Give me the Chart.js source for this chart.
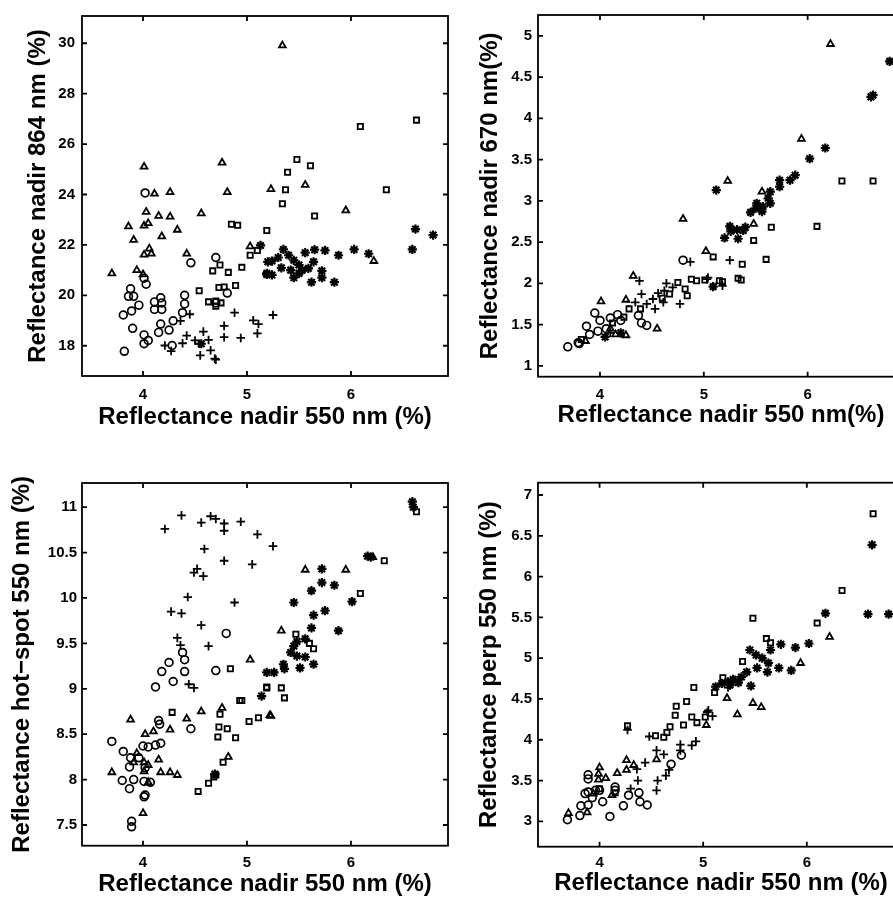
<!DOCTYPE html>
<html>
<head>
<meta charset="utf-8">
<script src="https://cdn.jsdelivr.net/npm/chart.js@4.4.1/dist/chart.umd.min.js"></script>
<style>
  html, body { margin: 0; padding: 0; background: #fff; overflow: hidden; }
  body { width: 893px; height: 901px; position: relative; }
  .panel { position: absolute; }
</style>
</head>
<body>
<div class="panel" style="left:0;top:0"><canvas id="c1" width="460" height="440"></canvas></div>
<div class="panel" style="left:460px;top:0"><canvas id="c2" width="460" height="440"></canvas></div>
<div class="panel" style="left:0;top:450px"><canvas id="c3" width="460" height="451"></canvas></div>
<div class="panel" style="left:460px;top:450px"><canvas id="c4" width="460" height="451"></canvas></div>
<script>
// tick labels
const xTicks = [4, 5, 6];
const p1YTicks = [18, 20, 22, 24, 26, 28, 30];
const p2YTicks = [1, 1.5, 2, 2.5, 3, 3.5, 4, 4.5, 5];
const p3YTicks = [7.5, 8, 8.5, 9, 9.5, 10, 10.5, 11];
const p4YTicks = [3, 3.5, 4, 4.5, 5, 5.5, 6, 6.5, 7];

// axis titles
const xTitle = 'Reflectance nadir 550 nm (%)';
const xTitle2 = 'Reflectance nadir 550 nm(%)';
const p1YTitle = 'Reflectance nadir 864 nm (%)';
const p2YTitle = 'Reflectance nadir 670 nm(%)';
const p3YTitle = 'Reflectance hot\u2212spot 550 nm (%)';
const p4YTitle = 'Reflectance perp 550 nm (%)';

// Panel 1: nadir 550 vs nadir 864
const p1Circles = [[4.02,24.06],[4.46,21.29],[4.70,21.50],[4.01,20.68],[4.03,20.44],[3.88,20.26],[3.86,19.96],[3.91,19.96],[4.17,19.90],[4.11,19.74],[4.18,19.70],[4.11,19.44],[4.18,19.44],[4.40,20.00],[4.40,19.66],[4.38,19.31],[4.70,19.70],[4.81,20.09],[3.96,19.61],[3.89,19.38],[3.81,19.22],[4.29,18.99],[4.17,18.86],[4.15,18.53],[4.25,18.62],[3.90,18.69],[4.01,18.43],[4.01,18.08],[4.05,18.21],[3.82,17.78],[4.28,18.01]];
const p1Triangles = [[4.01,25.10],[4.76,25.26],[5.23,24.21],[4.11,24.03],[4.26,24.09],[4.81,24.09],[4.03,23.31],[4.15,23.15],[4.26,23.12],[4.56,23.25],[3.86,22.73],[4.01,22.76],[4.05,22.86],[4.33,22.60],[3.91,22.20],[4.18,22.34],[4.06,21.85],[4.01,21.61],[4.08,21.65],[4.42,21.65],[5.03,21.94],[3.70,20.87],[3.94,21.00],[4.00,20.83],[5.34,29.91],[5.56,24.38],[5.95,23.37],[6.22,21.36]];
const p1Squares = [[4.85,22.82],[4.91,22.78],[5.19,22.57],[5.10,21.78],[5.03,21.59],[4.74,21.20],[4.67,20.97],[4.82,20.91],[4.95,21.11],[4.89,20.39],[4.73,20.31],[4.78,20.33],[4.54,20.18],[4.63,19.74],[4.70,19.77],[4.75,19.70],[4.70,19.57],[6.09,26.70],[6.63,26.95],[5.48,25.39],[5.61,25.14],[5.39,24.88],[5.37,24.19],[6.34,24.19],[5.34,23.63],[5.65,23.15]];
const p1Plus = [[4.45,19.25],[4.36,18.99],[4.88,19.31],[5.06,19.01],[5.11,18.86],[5.10,18.49],[4.78,18.79],[4.78,18.34],[4.94,18.31],[4.58,18.56],[4.63,18.23],[4.42,18.40],[4.38,18.10],[4.21,18.01],[4.27,17.79],[4.65,17.82],[4.55,17.62],[4.69,17.49],[4.50,18.21],[5.25,19.22],[4.70,17.45],[4.54,18.08]];
const p1Stars = [[5.13,21.98],[5.20,21.33],[5.19,20.83],[4.56,18.08],[6.62,22.63],[6.79,22.39],[6.59,21.82],[5.35,21.82],[5.40,21.59],[5.45,21.39],[5.50,21.20],[5.53,21.00],[5.56,21.69],[5.65,21.81],[5.75,21.78],[5.88,21.59],[6.03,21.82],[6.17,21.65],[5.24,21.36],[5.24,20.81],[5.19,20.87],[5.33,21.09],[5.45,20.70],[5.50,20.87],[5.59,21.07],[5.64,21.33],[5.62,20.52],[5.72,20.70],[5.72,20.97],[5.84,20.52],[5.30,21.50],[5.42,21.00]];

// Panel 2: nadir 550 vs nadir 670
const p2Circles = [[3.69,1.23],[3.80,1.27],[3.87,1.48],[3.95,1.64],[4.17,1.62],[4.37,1.61],[4.45,1.49],[4.40,1.52],[4.80,2.28],[4.00,1.55],[4.06,1.45],[3.90,1.38],[3.79,1.28],[4.10,1.58],[4.20,1.55],[3.98,1.42]];
const p2Triangles = [[4.80,2.78],[5.02,2.39],[4.32,2.09],[4.01,1.78],[4.25,1.80],[4.25,1.37],[4.55,1.45],[6.22,4.90],[5.94,3.75],[5.23,3.24],[5.56,3.11],[5.48,2.72],[3.86,1.30],[4.10,1.45],[4.15,1.38]];
const p2Squares = [[5.09,2.32],[4.88,2.05],[4.93,2.03],[5.01,2.04],[5.15,2.03],[4.75,2.01],[4.82,1.93],[4.84,1.85],[4.67,1.87],[4.28,1.69],[4.39,1.69],[4.23,1.59],[3.82,1.32],[6.33,3.24],[6.63,3.24],[6.09,2.69],[5.65,2.68],[5.48,2.52],[5.37,2.23],[5.60,2.29],[5.18,2.02],[5.33,2.06],[5.36,2.04],[4.12,1.52],[4.60,1.82]];
const p2Plus = [[4.87,2.26],[4.38,2.03],[4.64,2.00],[4.40,1.87],[4.51,1.81],[4.61,1.77],[4.77,1.75],[4.34,1.77],[4.53,1.69],[4.62,1.91],[5.18,1.97],[5.04,2.07],[5.25,2.28],[5.03,2.05],[4.70,1.95],[4.45,1.75],[4.56,1.88],[4.10,1.40]];
const p2Stars = [[5.12,3.13],[6.79,4.69],[6.61,4.26],[6.63,4.28],[6.17,3.64],[6.02,3.51],[5.88,3.31],[5.83,3.25],[5.73,3.17],[5.73,3.25],[5.64,3.11],[5.62,3.03],[5.64,2.97],[5.57,2.93],[5.56,2.87],[5.51,2.97],[5.50,2.91],[5.45,2.86],[5.25,2.69],[5.32,2.65],[5.38,2.64],[5.20,2.55],[5.33,2.54],[5.40,2.68],[5.26,2.63],[5.09,1.96],[4.05,1.35],[4.20,1.40]];

// Panel 3: nadir 550 vs hot-spot 550
const p3Circles = [[4.80,9.61],[4.38,9.40],[4.40,9.32],[4.25,9.29],[4.18,9.19],[4.40,9.19],[4.70,9.20],[4.29,9.08],[4.12,9.02],[4.15,8.65],[4.16,8.61],[4.46,8.56],[3.70,8.42],[3.81,8.31],[4.00,8.37],[4.05,8.36],[4.12,8.38],[4.17,8.40],[3.88,8.24],[3.96,8.24],[3.87,8.14],[4.02,8.13],[3.80,7.99],[3.91,8.00],[4.01,7.98],[4.07,7.97],[3.87,7.90],[4.02,7.83],[4.01,7.81],[3.89,7.54],[3.89,7.48]];
const p3Triangles = [[3.88,8.66],[4.02,8.50],[4.10,8.53],[4.26,8.55],[4.42,8.67],[4.56,8.75],[4.76,8.79],[5.03,9.32],[5.22,8.71],[3.94,8.29],[3.70,8.08],[3.91,8.19],[4.01,8.19],[4.05,8.16],[4.15,8.22],[4.17,8.08],[4.26,8.08],[4.33,8.05],[4.01,8.09],[4.05,7.97],[4.00,7.63],[4.82,8.25],[5.56,10.31],[5.95,10.31],[6.21,10.45],[5.33,9.64],[5.23,8.70]];
const p3Squares = [[4.84,9.22],[5.19,9.01],[4.93,8.87],[4.95,8.87],[4.28,8.74],[4.74,8.72],[4.73,8.58],[4.81,8.56],[4.72,8.47],[4.89,8.46],[5.02,8.64],[5.11,8.68],[4.77,8.19],[4.63,7.96],[4.53,7.87],[4.70,8.05],[6.63,10.95],[6.32,10.41],[6.09,10.05],[5.47,9.60],[5.60,9.50],[5.64,9.44],[5.19,9.02],[5.33,9.01],[5.36,8.90],[4.68,8.03]];
const p3Plus = [[4.37,10.91],[4.21,10.76],[4.56,10.83],[4.65,10.90],[4.70,10.87],[4.78,10.82],[4.78,10.74],[4.94,10.84],[5.10,10.70],[4.59,10.54],[4.78,10.41],[5.05,10.37],[4.52,10.32],[4.49,10.28],[4.58,10.24],[4.43,10.01],[4.27,9.85],[4.37,9.83],[4.88,9.95],[4.56,9.70],[4.33,9.56],[4.36,9.48],[4.63,9.47],[4.44,9.05],[4.49,9.01],[5.25,10.57]];
const p3Stars = [[6.59,11.06],[6.60,11.00],[6.16,10.46],[6.19,10.45],[5.72,10.32],[5.72,10.17],[5.84,10.14],[5.62,10.08],[5.45,9.95],[6.01,9.96],[5.75,9.86],[5.64,9.81],[5.62,9.67],[5.88,9.64],[5.56,9.55],[5.48,9.52],[5.45,9.47],[5.42,9.40],[5.48,9.36],[5.56,9.35],[5.64,9.27],[5.51,9.23],[5.35,9.27],[5.36,9.22],[5.26,9.18],[5.19,9.18],[5.14,8.92],[4.69,8.06]];

// Panel 4: nadir 550 vs perp 550
const p4Circles = [[3.89,3.57],[3.89,3.52],[3.86,3.34],[3.89,3.36],[4.00,3.38],[4.15,3.42],[4.15,3.38],[4.28,3.32],[4.38,3.35],[4.39,3.24],[4.46,3.20],[4.23,3.19],[4.10,3.06],[3.82,3.19],[3.69,3.02],[4.69,3.70],[4.79,3.81],[3.93,3.29],[4.03,3.24],[3.81,3.07],[3.89,3.20],[3.96,3.38]];
const p4Triangles = [[6.22,5.26],[5.94,4.94],[5.23,4.51],[5.48,4.45],[5.56,4.40],[5.33,4.31],[5.03,4.18],[4.55,3.76],[4.26,3.75],[4.33,3.69],[4.26,3.63],[4.17,3.59],[4.00,3.66],[3.99,3.58],[4.06,3.53],[3.99,3.51],[3.94,3.34],[4.12,3.32],[3.88,3.11],[3.70,3.10]];
const p4Squares = [[6.64,6.77],[6.34,5.83],[6.10,5.43],[5.48,5.49],[5.61,5.24],[5.65,5.19],[5.38,4.96],[5.19,4.76],[5.11,4.58],[5.02,4.28],[4.91,4.64],[4.84,4.47],[4.74,4.41],[4.73,4.30],[4.89,4.28],[4.94,4.21],[4.81,4.18],[4.68,4.16],[4.65,4.09],[4.54,4.05],[4.62,4.03],[4.27,4.17],[4.00,3.40],[4.15,3.35]];
const p4Plus = [[4.27,4.12],[4.48,4.04],[4.55,3.87],[4.62,3.82],[4.78,3.94],[4.78,3.87],[4.89,3.93],[4.93,3.98],[4.55,3.38],[4.56,3.50],[4.64,3.56],[4.67,3.63],[4.37,3.50],[4.36,3.64],[4.44,3.72],[5.04,4.34],[5.09,4.29],[5.05,4.36],[5.24,4.64],[4.30,3.40]];
const p4Stars = [[6.63,6.39],[6.18,5.55],[6.59,5.54],[6.79,5.54],[5.75,5.17],[5.89,5.13],[6.02,5.18],[5.45,5.10],[5.51,5.04],[5.57,5.00],[5.65,5.10],[5.63,4.94],[5.73,4.88],[5.85,4.85],[5.52,4.88],[5.62,4.83],[5.42,4.83],[5.37,4.77],[5.29,4.74],[5.34,4.70],[5.24,4.71],[5.18,4.69],[5.12,4.65],[5.46,4.66],[5.26,4.67]];

const FONT = '"Liberation Sans", Arial, Helvetica, sans-serif';

// box round the plot + inward ticks on all four sides (matlab style)
const boxTicks = {
  id: 'boxTicks',
  afterDatasetsDraw(chart) {
    const { ctx, chartArea: a, scales: { x, y } } = chart;
    ctx.save();
    ctx.strokeStyle = '#000';
    ctx.lineWidth = 1.8;
    ctx.strokeRect(a.left, a.top, a.right - a.left, a.bottom - a.top);
    ctx.beginPath();
    x.ticks.forEach(t => {
      const px = x.getPixelForValue(t.value);
      ctx.moveTo(px, a.bottom); ctx.lineTo(px, a.bottom - 5);
      ctx.moveTo(px, a.top); ctx.lineTo(px, a.top + 5);
    });
    y.ticks.forEach(t => {
      const py = y.getPixelForValue(t.value);
      ctx.moveTo(a.left, py); ctx.lineTo(a.left + 5, py);
      ctx.moveTo(a.right, py); ctx.lineTo(a.right - 5, py);
    });
    ctx.stroke();
    ctx.restore();
  }
};

function markerSet(data, style, r, lw) {
  return {
    data: data.map(p => ({ x: p[0], y: p[1] })),
    pointStyle: style,
    pointRadius: r,
    pointBorderWidth: lw,
    pointBorderColor: '#000',
    pointBackgroundColor: 'rgba(0,0,0,0)',
    showLine: false
  };
}

function makePanel(id, p) {
  const ctx = document.getElementById(id).getContext('2d');
  return new Chart(ctx, {
    type: 'scatter',
    data: {
      datasets: [
        markerSet(p.circles, 'circle', 3.9, 1.7),
        markerSet(p.triangles, 'triangle', 3.9, 1.8),
        markerSet(p.squares, 'rect', 3.7, 1.8),
        markerSet(p.plus, 'cross', 4.3, 1.8),
        markerSet(p.stars, 'star', 4.6, 2.2)
      ]
    },
    options: {
      responsive: false,
      animation: false,
      events: [],
      layout: { padding: p.pad },
      plugins: { legend: { display: false }, tooltip: { enabled: false } },
      scales: {
        x: {
          type: 'linear', min: p.xMin, max: p.xMax,
          afterBuildTicks: s => { s.ticks = xTicks.map(v => ({ value: v })); },
          afterFit: s => { s.height = p.xAxisH; },
          grid: { display: false, drawTicks: false },
          border: { display: false },
          ticks: { color: '#000', padding: p.xTickPad, font: { family: FONT, size: 15, weight: 'bold' }, callback: v => String(v) },
          title: { display: true, text: p.xTitle, color: '#000', font: { family: FONT, size: 24, weight: 'bold' }, padding: { top: 0, bottom: p.xTitlePad } }
        },
        y: {
          type: 'linear', min: p.yMin, max: p.yMax,
          afterBuildTicks: s => { s.ticks = p.yTicks.map(v => ({ value: v })); },
          afterFit: s => { s.width = p.yAxisW; },
          grid: { display: false, drawTicks: false },
          border: { display: false },
          ticks: { color: '#000', padding: p.yTickPad, font: { family: FONT, size: 15, weight: 'bold' }, callback: v => String(v) },
          title: { display: true, text: p.yTitle, color: '#000', font: { family: FONT, size: 24, weight: 'bold' }, padding: { top: p.yTitlePad, bottom: 0 } }
        }
      }
    },
    plugins: [boxTicks]
  });
}

makePanel('c1', {
  circles: p1Circles, triangles: p1Triangles, squares: p1Squares, plus: p1Plus, stars: p1Stars,
  xMin: 3.413, xMax: 6.933, yMin: 16.80, yMax: 31.08, yTicks: p1YTicks,
  xTitle: xTitle, yTitle: p1YTitle,
  pad: { left: 0, right: 12, top: 10, bottom: 0 },
  yAxisW: 82, xAxisH: 64, xTickPad: 10, yTickPad: 7, xTitlePad: 8.6, yTitlePad: 23.6
});

makePanel('c2', {
  circles: p2Circles, triangles: p2Triangles, squares: p2Squares, plus: p2Plus, stars: p2Stars,
  xMin: 3.403, xMax: 6.928, yMin: 0.868, yMax: 5.252, yTicks: p2YTicks,
  xTitle: xTitle2, yTitle: p2YTitle,
  pad: { left: 0, right: 16, top: 11.7, bottom: 0 },
  yAxisW: 78, xAxisH: 63.3, xTickPad: 9.3, yTickPad: 6, xTitlePad: 10.3, yTitlePad: 15.6
});

makePanel('c3', {
  circles: p3Circles, triangles: p3Triangles, squares: p3Squares, plus: p3Plus, stars: p3Stars,
  xMin: 3.413, xMax: 6.933, yMin: 7.272, yMax: 11.266, yTicks: p3YTicks,
  xTitle: xTitle, yTitle: p3YTitle,
  pad: { left: 0, right: 12, top: 33, bottom: 0 },
  yAxisW: 82, xAxisH: 55.3, xTickPad: 8, yTickPad: 5, xTitlePad: 1.9, yTitlePad: 7.6
});

makePanel('c4', {
  circles: p4Circles, triangles: p4Triangles, squares: p4Squares, plus: p4Plus, stars: p4Stars,
  xMin: 3.406, xMax: 6.938, yMin: 2.689, yMax: 7.151, yTicks: p4YTicks,
  xTitle: xTitle, yTitle: p4YTitle,
  pad: { left: 0, right: 16, top: 32.7, bottom: 0 },
  yAxisW: 78, xAxisH: 54.3, xTickPad: 7.3, yTickPad: 6, xTitlePad: 3.3, yTitlePad: 15.1
});
</script>
</body>
</html>
